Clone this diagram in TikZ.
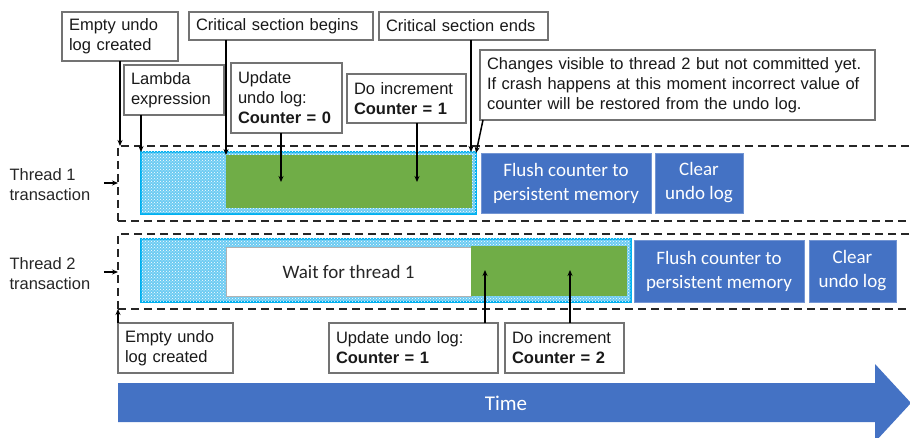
\documentclass[tikz,border=0pt]{standalone}
\usepackage{fontspec}
\setmainfont{Liberation Sans}
\newfontfamily\calibrifont{Carlito}
\usetikzlibrary{patterns,calc,arrows.meta}
\definecolor{obl}{HTML}{4472C4}
\definecolor{ogr}{HTML}{70AD47}
\definecolor{ocy}{HTML}{00B0F0}
\definecolor{cyfill}{HTML}{6CCBF2}
\tikzset{
  callout/.style={draw=black!55, line width=1.1pt, fill=white, anchor=north west,
    inner xsep=7pt, inner ysep=3pt, outer sep=0pt, align=left,
    font=\fontsize{16.5}{20}\selectfont, text=black!90},
  conn/.style={-{Stealth[length=6pt,width=5pt]}, line width=1.5pt, black},
  lane/.style={draw=black!85, line width=1.8pt, dash pattern=on 8pt off 5pt,
    anchor=north west, inner sep=0pt, outer sep=0pt},
  cyanbar/.style={draw=ocy, line width=2pt, fill=cyfill,
    postaction={pattern=crosshatch dots, pattern color=white},
    anchor=north west, inner sep=0pt, outer sep=0pt},
  greenbar/.style={fill=ogr, anchor=north west, inner sep=0pt, outer sep=0pt},
  bluebox/.style={fill=obl, draw=obl!75!white, line width=0.8pt, anchor=north west,
    inner sep=0pt, outer sep=0pt, align=center, text=white,
    font=\calibrifont\fontsize{19}{24}\selectfont},
  waitbox/.style={fill=white, draw=black!30, line width=0.6pt, anchor=north west,
    inner sep=0pt, outer sep=0pt, text=black!85,
    font=\calibrifont\fontsize{19}{24}\selectfont},
  lanelabel/.style={anchor=west, align=left, font=\fontsize{16.5}{20}\selectfont, text=black!85},
}
\begin{document}
\begin{tikzpicture}[x=1pt,y=-1pt]
\useasboundingbox (0,0) rectangle (910,438);
\clip (0,0) rectangle (910,438);

% lanes
\node[lane, minimum width=800pt, minimum height=75pt] (T1) at (118,146) {};
\node[lane, minimum width=800pt, minimum height=75pt] (T2) at (118,234) {};

% thread labels
\node[lanelabel] (t1lab) at (6,185) {Thread 1\\transaction};
\node[lanelabel] (t2lab) at (6,274) {Thread 2\\transaction};

% thread 1 content
\node[cyanbar, minimum width=335pt, minimum height=62pt] (c1) at (141,152) {};
\node[greenbar, minimum width=246pt, minimum height=53pt] (g1) at (226,155) {};
\node[bluebox, minimum width=170pt, minimum height=60pt] (f1) at (481,153) {Flush counter to\\persistent memory};
\node[bluebox, minimum width=88pt, minimum height=60pt] (cl1) at (655,153) {Clear\\undo log};

% thread 2 content
\node[cyanbar, minimum width=490pt, minimum height=63pt] (c2) at (141,239) {};
\node[waitbox, minimum width=245pt, minimum height=49pt] (w2) at (226,247) {Wait for thread 1};
\node[greenbar, minimum width=156pt, minimum height=50pt] (g2) at (471,246) {};
\node[bluebox, minimum width=170pt, minimum height=62pt] (f2) at (634,240) {Flush counter to\\persistent memory};
\node[bluebox, minimum width=87pt, minimum height=62pt] (cl2) at (809,240) {Clear\\undo log};

% callouts top
\node[callout, text width=102pt, minimum height=49pt] (ecT) at (62,12) {Empty undo\\log created};
\node[callout, text width=170pt, minimum height=28pt] (csb) at (189,12) {Critical section begins};
\node[callout, text width=155pt, minimum height=28pt] (cse) at (379,12) {Critical section ends};
\node[callout, text width=86pt, minimum height=50pt] (lam) at (124,65) {Lambda\\expression};
\node[callout, text width=97pt, minimum height=70pt] (upd0) at (231,63) {Update\\undo log:\\\textbf{Counter = 0}};
\node[callout, text width=105pt, minimum height=49pt] (inc1) at (347,74) {Do increment\\\textbf{Counter = 1}};
\node[callout, text width=381pt, minimum height=70pt] (chg) at (480,50)
  {\makebox[376pt][s]{Changes visible to thread 2 but not committed yet.}\\
   \makebox[376pt][s]{If crash happens at this moment incorrect value of}\\
   counter will be restored from the undo log.};

% callouts bottom
\node[callout, text width=101pt, minimum height=50pt] (ecB) at (118,323) {Empty undo\\log created};
\node[callout, text width=155pt, minimum height=50pt] (upd1) at (329,323) {Update undo log:\\\textbf{Counter = 1}};
\node[callout, text width=105pt, minimum height=50pt] (inc2) at (505,323) {Do increment\\\textbf{Counter = 2}};

% free ends
\coordinate (p0) at (281,182);
\coordinate (p1) at (417,182);
\coordinate (p2) at (476,153);
\coordinate (p3) at (485,270);
\coordinate (p4) at (570,270);

% connectors
\draw[conn] (ecT.south) -- (ecT.south |- T1.north);
\draw[conn] ([xshift=17pt]lam.south west) -- ([xshift=17pt]lam.south west |- c1.north);
\draw[conn] (g1.north west |- csb.south) -- (g1.north west);
\draw[conn] ([xshift=50pt]upd0.south west) -- (p0);
\draw[conn] ([xshift=70pt]inc1.south west) -- (p1);
\draw[conn] ([xshift=92pt]cse.south west) -- ([xshift=92pt]cse.south west |- c1.north);
\draw[conn] ([xshift=3pt]chg.south west) -- (p2);
\draw[conn] (ecB.north west) -- (ecB.north west |- T2.south);
\draw[conn] ([xshift=156pt]upd1.north west) -- (p3);
\draw[conn] ([xshift=65pt]inc2.north west) -- (p4);
\draw[conn] ([xshift=10pt]t1lab.east |- 0,183) -- (T1.west |- 0,183);
\draw[conn] ([xshift=10pt]t2lab.east |- 0,272) -- (T2.west |- 0,272);

% time arrow
\fill[obl] (118,383) -- (875,383) -- (875,364) -- (911,403) -- (875,442) -- (875,422) -- (118,422) -- cycle;
\node[text=white, font=\calibrifont\fontsize{21}{24}\selectfont] (time) at (506,403) {Time};
\end{tikzpicture}
\end{document}
